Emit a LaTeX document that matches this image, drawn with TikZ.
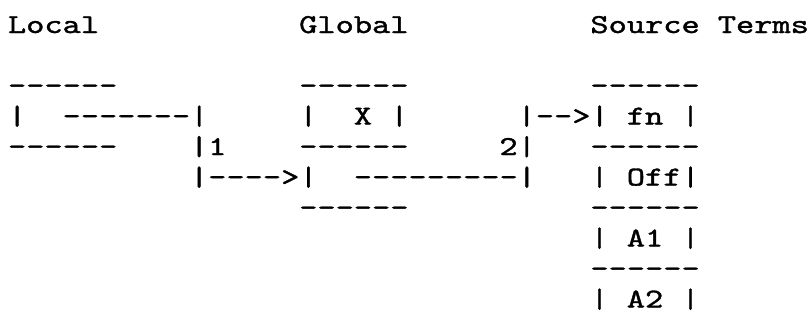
\documentclass[tikz,border=0pt]{standalone}
\usepackage{fontspec}
\newfontfamily\asciifont{lmmono10-regular.otf}[FakeBold=1.2]
\tikzstyle{ascii}=[anchor=base west, inner sep=0pt, outer sep=0pt, xscale=1.27, font=\asciifont\fontsize{20.5}{20.5}\selectfont]

\begin{document}
\begin{tikzpicture}[x=13.65pt, y=-22.875pt]
	\useasboundingbox (-0.4396,-1.082) rectangle (44.121,9.639);

	% headings
	\node[ascii] (local) at (0,0) {Local};
	\node[ascii] (global) at (16,0) {Global};
	\node[ascii] (source) at (32,0) {Source};
	\node[ascii] (terms) at (39,0) {Terms};

	% local box
	\node[ascii] (ltop) at (0,2) {------};
	\node[ascii] (lleft) at (0,3) {|};
	\node[ascii] (lout) at (3,3) {-------|};
	\node[ascii] (lbot) at (0,4) {------};

	% pointer 1
	\node[ascii] (one) at (10,4) {|1};
	\node[ascii] (arrowone) at (10,5) {|---->|};

	% global box
	\node[ascii] (gtop) at (16,2) {------};
	\node[ascii] (gleft) at (16,3) {|};
	\node[ascii] (gx) at (19,3) {X};
	\node[ascii] (gright) at (21,3) {|};
	\node[ascii] (gmid) at (16,4) {------};
	\node[ascii] (gout) at (19,5) {---------|};
	\node[ascii] (gbot) at (16,6) {------};

	% pointer 2
	\node[ascii] (arrowtwo) at (28,3) {|-->|};
	\node[ascii] (two) at (27,4) {2|};

	% source terms
	\node[ascii] (stop) at (32,2) {------};
	\node[ascii] (fn) at (34,3) {fn};
	\node[ascii] (fnright) at (37,3) {|};
	\node[ascii] (sa) at (32,4) {------};
	\node[ascii] (offleft) at (32,5) {|};
	\node[ascii] (off) at (34,5) {Off|};
	\node[ascii] (sb) at (32,6) {------};
	\node[ascii] (aoneleft) at (32,7) {|};
	\node[ascii] (aone) at (34,7) {A1};
	\node[ascii] (aoneright) at (37,7) {|};
	\node[ascii] (sc) at (32,8) {------};
	\node[ascii] (atwoleft) at (32,9) {|};
	\node[ascii] (atwo) at (34,9) {A2};
	\node[ascii] (atworight) at (37,9) {|};
\end{tikzpicture}
\end{document}
